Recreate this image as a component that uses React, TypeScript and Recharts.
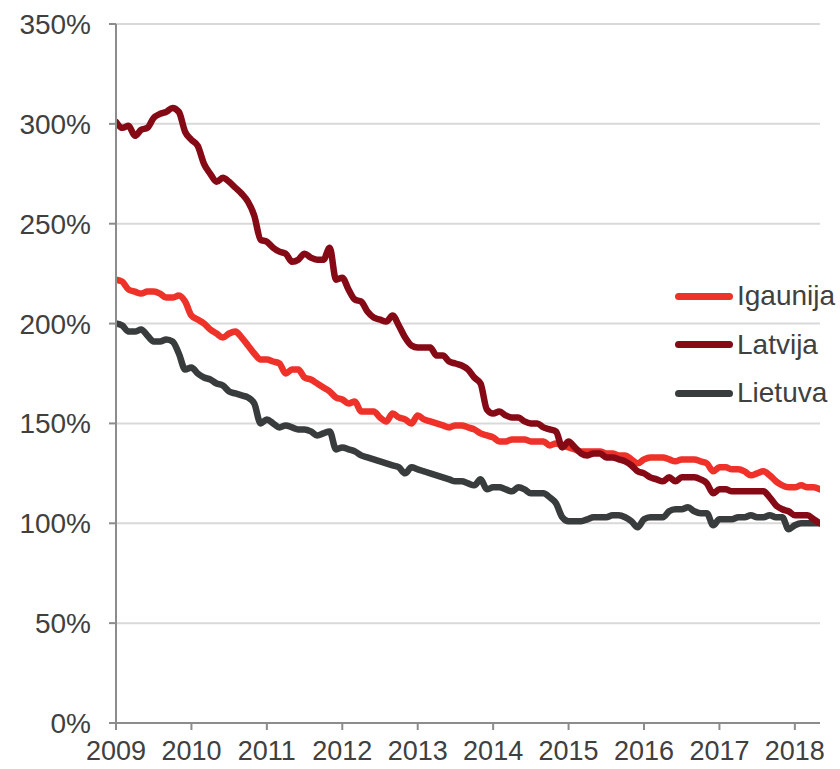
import React from "react";
import {
  LineChart,
  Line,
  XAxis,
  YAxis,
  CartesianGrid,
} from "recharts";

// monthly values, Jan 2009 .. May 2018 (% of base)
const igaunija = [
  222, 221, 217, 216, 215, 216, 216, 215, 213, 213, 214, 211,
  204, 202, 200, 197, 195, 193, 195, 196, 193, 189, 185, 182,
  182, 181, 180, 175, 177, 177, 173, 172, 170, 168, 166, 163,
  162, 160, 161, 156, 156, 156, 153, 151, 155, 153, 152, 150,
  154, 152, 151, 150, 149, 148, 149, 149, 148, 147, 145, 144,
  143, 141, 141, 142, 142, 142, 141, 141, 141, 139, 140, 139,
  138, 137, 136, 136, 136, 136, 135, 135, 134, 134, 132, 130,
  132, 133, 133, 133, 132, 131, 132, 132, 132, 131, 130, 126,
  128, 128, 127, 127, 126, 124, 125, 126, 124, 121, 119, 118,
  118, 119, 118, 118, 117,
];

const latvija = [
  301, 298, 299, 294, 297, 298, 303, 305, 306, 308, 306, 296,
  292, 289, 280, 275, 271, 273, 271, 268, 265, 261, 254, 242,
  241, 238, 236, 235, 231, 232, 235, 233, 232, 232, 238, 222,
  223, 217, 212, 211, 206, 203, 202, 201, 204, 199, 193, 189,
  188, 188, 188, 184, 184, 181, 180, 179, 177, 173, 170, 157,
  155, 156, 154, 153, 153, 151, 150, 150, 148, 147, 146, 138,
  141, 138, 135, 134, 135, 135, 133, 133, 132, 131, 129, 126,
  125, 123, 122, 121, 123, 121, 123, 123, 123, 122, 120, 115,
  117, 117, 116, 116, 116, 116, 116, 116, 113, 109, 107, 106,
  104, 104, 104, 102, 100,
];

const lietuva = [
  200, 199, 196, 196, 197, 194, 191, 191, 192, 191, 185, 177,
  178, 175, 173, 172, 170, 169, 166, 165, 164, 163, 160, 150,
  152, 150, 148, 149, 148, 147, 147, 146, 144, 145, 146, 137,
  138, 137, 136, 134, 133, 132, 131, 130, 129, 128, 125, 128,
  127, 126, 125, 124, 123, 122, 121, 121, 120, 119, 122, 117,
  118, 118, 117, 116, 118, 117, 115, 115, 115, 113, 110, 103,
  101, 101, 101, 102, 103, 103, 103, 104, 104, 103, 101, 98,
  102, 103, 103, 103, 106, 107, 107, 108, 106, 105, 105, 99,
  102, 102, 102, 103, 103, 104, 103, 103, 104, 103, 103, 97,
  99, 100, 100, 100, 100,
];

const years = [2009, 2010, 2011, 2012, 2013, 2014, 2015, 2016, 2017, 2018];
const yTicks = [0, 50, 100, 150, 200, 250, 300, 350];

const series = [
  { key: "igaunija", name: "Igaunija", color: "#ee3129" },
  { key: "latvija", name: "Latvija", color: "#860916" },
  { key: "lietuva", name: "Lietuva", color: "#383c3c" },
];

const data = igaunija.map((v, i) => ({
  t: 2009 + i / 12,
  igaunija: v,
  latvija: latvija[i],
  lietuva: lietuva[i],
}));

const FONT = "'Liberation Sans', Arial, sans-serif";
const TEXT = "#404040";

const Legend = () => (
  <div style={{ position: "absolute", left: 675, top: 272, fontFamily: FONT }}>
    {series.map((s) => (
      <div key={s.key} style={{ display: "flex", alignItems: "center", height: 48.5 }}>
        <div style={{ width: 58, height: 7, borderRadius: 4, background: s.color }} />
        <span style={{ marginLeft: 4, fontSize: 28, color: TEXT }}>{s.name}</span>
      </div>
    ))}
  </div>
);

export default function App() {
  return (
    <div style={{ position: "absolute", left: 0, top: 0, width: 840, height: 769, background: "#fff" }}>
      <LineChart
        width={840}
        height={769}
        data={data}
        margin={{ top: 24, right: 20, bottom: 0, left: 0 }}
      >
        <CartesianGrid vertical={false} stroke="#d9d9d9" strokeWidth={2} />
        <XAxis
          dataKey="t"
          type="number"
          domain={[2009, 2009 + 112 / 12]}
          ticks={years}
          allowDataOverflow
          height={46}
          tickSize={7}
          tickMargin={11}
          stroke="#8c8c8c"
          strokeWidth={2}
          tick={{ fill: TEXT, fontSize: 27, fontFamily: FONT }}
        />
        <YAxis
          domain={[0, 350]}
          ticks={yTicks}
          width={116}
          tickSize={7}
          tickMargin={18}
          stroke="#8c8c8c"
          strokeWidth={2}
          tickFormatter={(v) => `${v}%`}
          tick={{ fill: TEXT, fontSize: 28, fontFamily: FONT }}
        />
        <Line dataKey="igaunija" type="monotone" stroke="#ee3129" strokeWidth={6.5} dot={false} isAnimationActive={false} strokeLinejoin="round" strokeLinecap="round" />
        <Line dataKey="lietuva" type="monotone" stroke="#383c3c" strokeWidth={6.5} dot={false} isAnimationActive={false} strokeLinejoin="round" strokeLinecap="round" />
        <Line dataKey="latvija" type="monotone" stroke="#860916" strokeWidth={6.5} dot={false} isAnimationActive={false} strokeLinejoin="round" strokeLinecap="round" />
      </LineChart>
      <Legend />
    </div>
  );
}
